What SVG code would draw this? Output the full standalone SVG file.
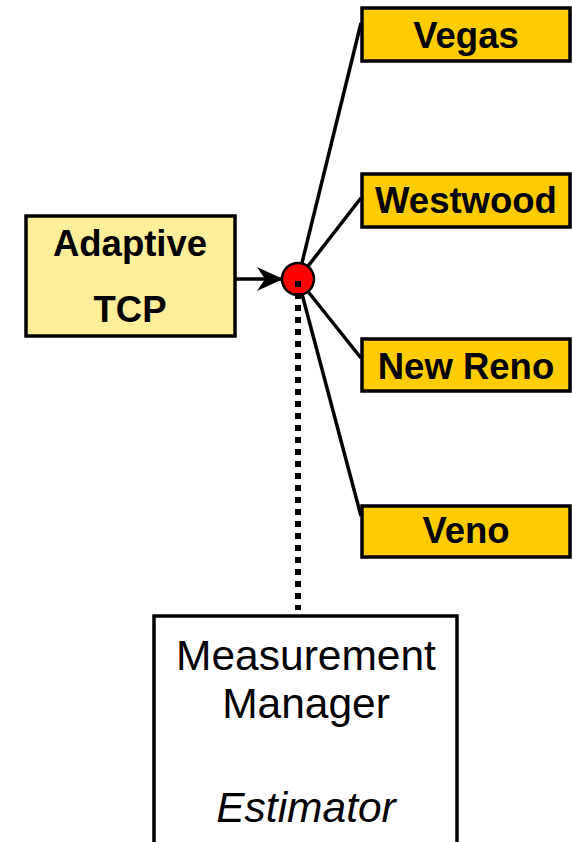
<svg xmlns="http://www.w3.org/2000/svg" width="572" height="842" viewBox="0 0 572 842">
  <defs>
    <marker id="arrow" viewBox="0 0 26 24" refX="25" refY="12" markerWidth="26" markerHeight="24" markerUnits="userSpaceOnUse" orient="auto">
      <path d="M0,0 L26,12 L0,24 L8,12 Z" fill="#000"/>
    </marker>
  </defs>
  <style>
    .box { stroke: #000; stroke-width: 3.5; }
    .variant { fill: #FFCC00; }
    .bold { font-family: "Liberation Sans", Arial, sans-serif; font-weight: bold; font-size: 36.5px; text-anchor: middle; fill: #000; }
    .plain { font-family: "Liberation Sans", Arial, sans-serif; font-size: 42.5px; text-anchor: middle; fill: #000; }
    .link { stroke: #000; stroke-width: 3.5; fill: none; }
  </style>
  <rect width="572" height="842" fill="#fff"/>

  <g id="connectors">
    <line class="link" x1="235" y1="279" x2="282" y2="279" marker-end="url(#arrow)"/>
    <line class="link" x1="298" y1="279" x2="361" y2="23"/>
    <line class="link" x1="298" y1="279" x2="361" y2="198"/>
    <line class="link" x1="298" y1="279" x2="361" y2="358"/>
    <line class="link" x1="298" y1="279" x2="361" y2="516"/>
  </g>

  <g id="hub">
    <circle cx="298" cy="279" r="16" fill="#FF0000" stroke="#000" stroke-width="2.5"/>
  </g>

  <g id="measurement-link">
    <line x1="298" y1="281" x2="298" y2="610" stroke="#000" stroke-width="6" stroke-dasharray="6 6"/>
  </g>

  <g id="adaptive-tcp">
    <rect class="box" x="26" y="216" width="209" height="120" fill="#FFEE99"/>
    <text class="bold" x="130" y="256">Adaptive</text>
    <text class="bold" x="130" y="322">TCP</text>
  </g>

  <g id="vegas">
    <rect class="box variant" x="362" y="8" width="208" height="53"/>
    <text class="bold" x="466" y="48">Vegas</text>
  </g>

  <g id="westwood">
    <rect class="box variant" x="362" y="174" width="208" height="53"/>
    <text class="bold" x="466" y="213">Westwood</text>
  </g>

  <g id="new-reno">
    <rect class="box variant" x="362" y="339" width="208" height="52"/>
    <text class="bold" x="466" y="379">New Reno</text>
  </g>

  <g id="veno">
    <rect class="box variant" x="362" y="506" width="208" height="51"/>
    <text class="bold" x="466" y="543">Veno</text>
  </g>

  <g id="measurement-manager">
    <rect x="154" y="616" width="303" height="240" fill="#fff" stroke="#000" stroke-width="3.5"/>
    <text class="plain" x="306" y="670">Measurement</text>
    <text class="plain" x="306" y="718">Manager</text>
    <text class="plain" x="306" y="822" font-style="italic">Estimator</text>
  </g>
</svg>
